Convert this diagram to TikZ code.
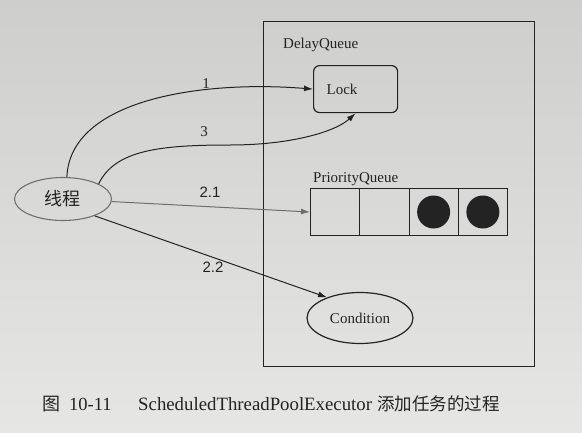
\documentclass[tikz,border=0pt]{standalone}
\usepackage{fontspec}
\setmainfont{Liberation Serif}
\newfontfamily\cjkf{Noto Sans CJK SC}
\newfontfamily\sansf{Liberation Sans}
\usetikzlibrary{arrows.meta,shapes.geometric}
\definecolor{ink}{RGB}{35,35,35}
\definecolor{paperA}{RGB}{206,206,204}
\definecolor{paperB}{RGB}{230,230,228}
\definecolor{lightink}{RGB}{110,110,110}
\begin{document}
\begin{tikzpicture}[x=1pt,y=-1pt,
  arr/.style={draw=ink, line width=1pt, -{Latex[length=9pt,width=6pt]}},
  lbl/.style={text=ink, font=\fontsize{15}{18}\selectfont, inner sep=0pt},
  cell/.style={draw=ink, line width=1pt, minimum width=49.25pt, minimum height=47pt, inner sep=0pt, anchor=north west},
  dot/.style={circle, fill=ink, minimum size=33pt, inner sep=0pt},
  captext/.style={text=ink, anchor=base west, inner sep=0pt}
  ]
\shade[top color=paperA, bottom color=paperB] (0,0) rectangle (582,432);
\useasboundingbox (0,0) rectangle (582,432);

% DelayQueue container
\node[draw=ink, line width=0.9pt, minimum width=271pt, minimum height=345pt, inner sep=0pt, anchor=north west] (dq) at (263,21) {};
\node[lbl, anchor=west] (dqlbl) at (283,45) {DelayQueue};

% Lock
\node[draw=ink, line width=1.2pt, rounded corners=6pt, minimum width=84pt, minimum height=47pt, inner sep=0pt, anchor=north west] (lock) at (313,65) {};
\node[lbl] (locklbl) at (342,89) {Lock};

% PriorityQueue
\node[lbl, anchor=west] (pqlbl) at (313,179) {PriorityQueue};
\node[cell] (q0) at (310,188) {};
\node[cell] (q1) at (359.25,188) {};
\node[cell] (q2) at (408.5,188) {};
\node[cell] (q3) at (457.75,188) {};
\node[dot] (d2) at (q2.center) {};
\node[dot] (d3) at (q3.center) {};

% Condition
\node[ellipse, draw=ink, line width=1.2pt, minimum width=106pt, minimum height=51pt, inner sep=0pt, text=ink, font=\fontsize{15}{18}\selectfont] (cond) at (360,318) {Condition};

% Thread
\node[ellipse, draw=ink!65, line width=1.1pt, minimum width=97pt, minimum height=43pt, inner sep=0pt, text=ink, font=\cjkf\fontsize{18}{20}\selectfont] (thr) at (63,199) {线程};

% connectors
\draw[arr] (thr.80) .. controls (70,100) and (200,80) .. (lock.west);
\draw[arr] (thr.23) .. controls (115,150) and (160,145) .. (230,145) .. controls (290,145) and (335,132) .. (lock.south);
\draw[arr, draw=lightink, color=lightink] (thr.-3) -- (q0.west);
\draw[arr] (thr.-28) -- (cond.148);

% labels
\node[lbl] (l1) at (206,84) {1};
\node[lbl] (l3) at (204,132) {3};
\node[lbl, font=\sansf\fontsize{15}{18}\selectfont] (l21) at (210,192) {2.1};
\node[lbl, font=\sansf\fontsize{15}{18}\selectfont] (l22) at (213,267) {2.2};

% caption
\node[captext, font=\cjkf\fontsize{18}{20}\selectfont] (cap1) at (42,410) {图};
\node[captext, font=\fontsize{18.5}{20}\selectfont] (cap2) at (69,410) {10-11};
\node[captext, font=\fontsize{18.8}{20}\selectfont] (cap3) at (138,410) {ScheduledThreadPoolExecutor};
\node[captext, font=\cjkf\fontsize{17.5}{20}\selectfont] (cap4) at (377,410) {添加任务的过程};
\end{tikzpicture}
\end{document}
